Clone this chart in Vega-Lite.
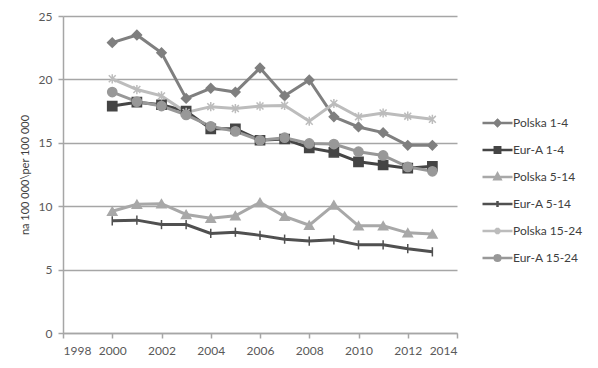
{
  "$schema": "https://vega.github.io/schema/vega-lite/v6.json",
  "autosize": "none",
  "width": 394,
  "height": 317,
  "padding": {"left": 63, "top": 16, "right": 141, "bottom": 35},
  "background": "white",
  "config": {
    "font": "Lato",
    "view": {"stroke": null},
    "axis": {"labelFont": "Lato", "titleFont": "Lato"},
    "legend": {"labelFont": "Lato"}
  },
  "data": {
    "values": [
      {"year": 2000, "series": "Polska 1-4", "value": 22.9},
      {"year": 2001, "series": "Polska 1-4", "value": 23.5},
      {"year": 2002, "series": "Polska 1-4", "value": 22.1},
      {"year": 2003, "series": "Polska 1-4", "value": 18.5},
      {"year": 2004, "series": "Polska 1-4", "value": 19.3},
      {"year": 2005, "series": "Polska 1-4", "value": 19.0},
      {"year": 2006, "series": "Polska 1-4", "value": 20.9},
      {"year": 2007, "series": "Polska 1-4", "value": 18.7},
      {"year": 2008, "series": "Polska 1-4", "value": 19.95},
      {"year": 2009, "series": "Polska 1-4", "value": 17.05},
      {"year": 2010, "series": "Polska 1-4", "value": 16.25},
      {"year": 2011, "series": "Polska 1-4", "value": 15.8},
      {"year": 2012, "series": "Polska 1-4", "value": 14.8},
      {"year": 2013, "series": "Polska 1-4", "value": 14.8},

      {"year": 2000, "series": "Eur-A 1-4", "value": 17.9},
      {"year": 2001, "series": "Eur-A 1-4", "value": 18.2},
      {"year": 2002, "series": "Eur-A 1-4", "value": 18.0},
      {"year": 2003, "series": "Eur-A 1-4", "value": 17.5},
      {"year": 2004, "series": "Eur-A 1-4", "value": 16.1},
      {"year": 2005, "series": "Eur-A 1-4", "value": 16.1},
      {"year": 2006, "series": "Eur-A 1-4", "value": 15.2},
      {"year": 2007, "series": "Eur-A 1-4", "value": 15.3},
      {"year": 2008, "series": "Eur-A 1-4", "value": 14.6},
      {"year": 2009, "series": "Eur-A 1-4", "value": 14.25},
      {"year": 2010, "series": "Eur-A 1-4", "value": 13.5},
      {"year": 2011, "series": "Eur-A 1-4", "value": 13.25},
      {"year": 2012, "series": "Eur-A 1-4", "value": 13.0},
      {"year": 2013, "series": "Eur-A 1-4", "value": 13.15},

      {"year": 2000, "series": "Polska 5-14", "value": 9.6},
      {"year": 2001, "series": "Polska 5-14", "value": 10.15},
      {"year": 2002, "series": "Polska 5-14", "value": 10.2},
      {"year": 2003, "series": "Polska 5-14", "value": 9.35},
      {"year": 2004, "series": "Polska 5-14", "value": 9.05},
      {"year": 2005, "series": "Polska 5-14", "value": 9.25},
      {"year": 2006, "series": "Polska 5-14", "value": 10.3},
      {"year": 2007, "series": "Polska 5-14", "value": 9.2},
      {"year": 2008, "series": "Polska 5-14", "value": 8.5},
      {"year": 2009, "series": "Polska 5-14", "value": 10.1},
      {"year": 2010, "series": "Polska 5-14", "value": 8.45},
      {"year": 2011, "series": "Polska 5-14", "value": 8.45},
      {"year": 2012, "series": "Polska 5-14", "value": 7.9},
      {"year": 2013, "series": "Polska 5-14", "value": 7.8},

      {"year": 2000, "series": "Eur-A 5-14", "value": 8.85},
      {"year": 2001, "series": "Eur-A 5-14", "value": 8.9},
      {"year": 2002, "series": "Eur-A 5-14", "value": 8.55},
      {"year": 2003, "series": "Eur-A 5-14", "value": 8.55},
      {"year": 2004, "series": "Eur-A 5-14", "value": 7.85},
      {"year": 2005, "series": "Eur-A 5-14", "value": 7.95},
      {"year": 2006, "series": "Eur-A 5-14", "value": 7.7},
      {"year": 2007, "series": "Eur-A 5-14", "value": 7.4},
      {"year": 2008, "series": "Eur-A 5-14", "value": 7.25},
      {"year": 2009, "series": "Eur-A 5-14", "value": 7.35},
      {"year": 2010, "series": "Eur-A 5-14", "value": 6.95},
      {"year": 2011, "series": "Eur-A 5-14", "value": 6.95},
      {"year": 2012, "series": "Eur-A 5-14", "value": 6.65},
      {"year": 2013, "series": "Eur-A 5-14", "value": 6.4},

      {"year": 2000, "series": "Polska 15-24", "value": 20.05},
      {"year": 2001, "series": "Polska 15-24", "value": 19.2},
      {"year": 2002, "series": "Polska 15-24", "value": 18.7},
      {"year": 2003, "series": "Polska 15-24", "value": 17.4},
      {"year": 2004, "series": "Polska 15-24", "value": 17.85},
      {"year": 2005, "series": "Polska 15-24", "value": 17.7},
      {"year": 2006, "series": "Polska 15-24", "value": 17.9},
      {"year": 2007, "series": "Polska 15-24", "value": 17.95},
      {"year": 2008, "series": "Polska 15-24", "value": 16.7},
      {"year": 2009, "series": "Polska 15-24", "value": 18.1},
      {"year": 2010, "series": "Polska 15-24", "value": 17.05},
      {"year": 2011, "series": "Polska 15-24", "value": 17.35},
      {"year": 2012, "series": "Polska 15-24", "value": 17.1},
      {"year": 2013, "series": "Polska 15-24", "value": 16.85},

      {"year": 2000, "series": "Eur-A 15-24", "value": 19.0},
      {"year": 2001, "series": "Eur-A 15-24", "value": 18.25},
      {"year": 2002, "series": "Eur-A 15-24", "value": 17.9},
      {"year": 2003, "series": "Eur-A 15-24", "value": 17.2},
      {"year": 2004, "series": "Eur-A 15-24", "value": 16.3},
      {"year": 2005, "series": "Eur-A 15-24", "value": 15.9},
      {"year": 2006, "series": "Eur-A 15-24", "value": 15.2},
      {"year": 2007, "series": "Eur-A 15-24", "value": 15.4},
      {"year": 2008, "series": "Eur-A 15-24", "value": 14.95},
      {"year": 2009, "series": "Eur-A 15-24", "value": 14.9},
      {"year": 2010, "series": "Eur-A 15-24", "value": 14.3},
      {"year": 2011, "series": "Eur-A 15-24", "value": 14.0},
      {"year": 2012, "series": "Eur-A 15-24", "value": 13.1},
      {"year": 2013, "series": "Eur-A 15-24", "value": 12.75}
    ]
  },
  "encoding": {
    "x": {
      "field": "year", "type": "quantitative",
      "scale": {"domain": [1998, 2014], "nice": false, "zero": false},
      "axis": {
        "title": null, "values": [1998, 2000, 2002, 2004, 2006, 2008, 2010, 2012, 2014],
        "format": "d", "grid": false,
        "domainColor": "#a6a6a6", "domainWidth": 1.5,
        "tickColor": "#a6a6a6", "tickWidth": 1.5, "tickSize": 5,
        "labelColor": "#595959", "labelFontSize": 12, "labelPadding": 7
      }
    },
    "y": {
      "field": "value", "type": "quantitative",
      "scale": {"domain": [0, 25], "nice": false},
      "axis": {
        "title": "na 100 000\\per 100 000",
        "titleFontSize": 11, "titleFontWeight": "normal", "titleColor": "#404040", "titlePadding": 8,
        "values": [0, 5, 10, 15, 20, 25],
        "grid": true, "gridColor": "#a6a6a6", "gridWidth": 1.5,
        "domainColor": "#a6a6a6", "domainWidth": 1.5,
        "tickColor": "#a6a6a6", "tickWidth": 1.5, "tickSize": 5,
        "labelColor": "#595959", "labelFontSize": 12, "labelPadding": 6
      }
    }
  },
  "resolve": {"scale": {"color": "independent", "fill": "independent", "stroke": "independent", "shape": "independent"}},
  "layer": [
    {
      "mark": {"type": "line", "strokeWidth": 3},
      "encoding": {
        "color": {
          "field": "series", "type": "nominal", "legend": null,
          "scale": {
            "domain": ["Polska 1-4", "Eur-A 1-4", "Polska 5-14", "Eur-A 5-14", "Polska 15-24", "Eur-A 15-24"],
            "range": ["#7f7f7f", "#454545", "#a8a8a8", "#505050", "#bcbcbc", "#989898"]
          }
        }
      }
    },
    {
      "mark": {"type": "point", "filled": true, "opacity": 1, "strokeWidth": 1.5, "size": 85},
      "encoding": {
        "fill": {
          "field": "series", "type": "nominal", "legend": null,
          "scale": {
            "domain": ["Polska 1-4", "Eur-A 1-4", "Polska 5-14", "Eur-A 5-14", "Polska 15-24", "Eur-A 15-24"],
            "range": ["#7f7f7f", "#454545", "#a8a8a8", "#505050", "#bcbcbc", "#989898"]
          }
        },
        "stroke": {
          "field": "series", "type": "nominal", "legend": null,
          "scale": {
            "domain": ["Polska 1-4", "Eur-A 1-4", "Polska 5-14", "Eur-A 5-14", "Polska 15-24", "Eur-A 15-24"],
            "range": ["#7f7f7f", "#454545", "#a8a8a8", "#505050", "#bcbcbc", "#989898"]
          }
        },
        "shape": {
          "field": "series", "type": "nominal", "legend": null,
          "scale": {
            "domain": ["Polska 1-4", "Eur-A 1-4", "Polska 5-14", "Eur-A 5-14", "Polska 15-24", "Eur-A 15-24"],
            "range": [
              "diamond",
              "square",
              "triangle-up",
              "M0,-1V1",
              "M-0.75,-0.75L0.75,0.75M-0.75,0.75L0.75,-0.75M0,-1V1",
              "circle"
            ]
          }
        }
      }
    },
    {
      "transform": [{"filter": "datum.value < 0"}],
      "mark": {"type": "point", "filled": true, "opacity": 1, "strokeWidth": 2.5, "size": 900},
      "encoding": {
        "fill": {
          "field": "series", "type": "nominal",
          "scale": {
            "domain": ["Polska 1-4", "Eur-A 1-4", "Polska 5-14", "Eur-A 5-14", "Polska 15-24", "Eur-A 15-24"],
            "range": ["#7f7f7f", "#454545", "#a8a8a8", "#505050", "#bcbcbc", "#989898"]
          },
          "legend": {"title": null, "orient": "none", "legendX": 418, "legendY": 100, "padding": 0, "symbolSize": 900, "symbolStrokeWidth": 2.5, "clipHeight": 14, "rowPadding": 13, "labelFontSize": 12, "labelColor": "#404040", "labelOffset": -1}
        },
        "stroke": {
          "field": "series", "type": "nominal",
          "scale": {
            "domain": ["Polska 1-4", "Eur-A 1-4", "Polska 5-14", "Eur-A 5-14", "Polska 15-24", "Eur-A 15-24"],
            "range": ["#7f7f7f", "#454545", "#a8a8a8", "#505050", "#bcbcbc", "#989898"]
          },
          "legend": {"title": null, "orient": "none", "legendX": 418, "legendY": 100, "padding": 0, "symbolSize": 900, "symbolStrokeWidth": 2.5, "clipHeight": 14, "rowPadding": 13, "labelFontSize": 12, "labelColor": "#404040", "labelOffset": -1}
        },
        "shape": {
          "field": "series", "type": "nominal",
          "scale": {
            "domain": ["Polska 1-4", "Eur-A 1-4", "Polska 5-14", "Eur-A 5-14", "Polska 15-24", "Eur-A 15-24"],
            "range": [
              "M-1,0H1M0,-0.2L0.2,0L0,0.2L-0.2,0Z",
              "M-1,0H1M-0.18,-0.18H0.18V0.18H-0.18Z",
              "M-1,0H1M0,-0.22L0.2,0.15H-0.2Z",
              "M-1,0H1M0,-0.2V0.2",
              "M-1,0H1M-0.15,-0.15L0.15,0.15M-0.15,0.15L0.15,-0.15M0,-0.22V0.22",
              "M-1,0H1M0.19,0A0.19,0.19 0 1,1 -0.19,0A0.19,0.19 0 1,1 0.19,0Z"
            ]
          },
          "legend": {"title": null, "orient": "none", "legendX": 418, "legendY": 100, "padding": 0, "symbolSize": 900, "symbolStrokeWidth": 2.5, "clipHeight": 14, "rowPadding": 13, "labelFontSize": 12, "labelColor": "#404040", "labelOffset": -1}
        }
      }
    }
  ]
}
